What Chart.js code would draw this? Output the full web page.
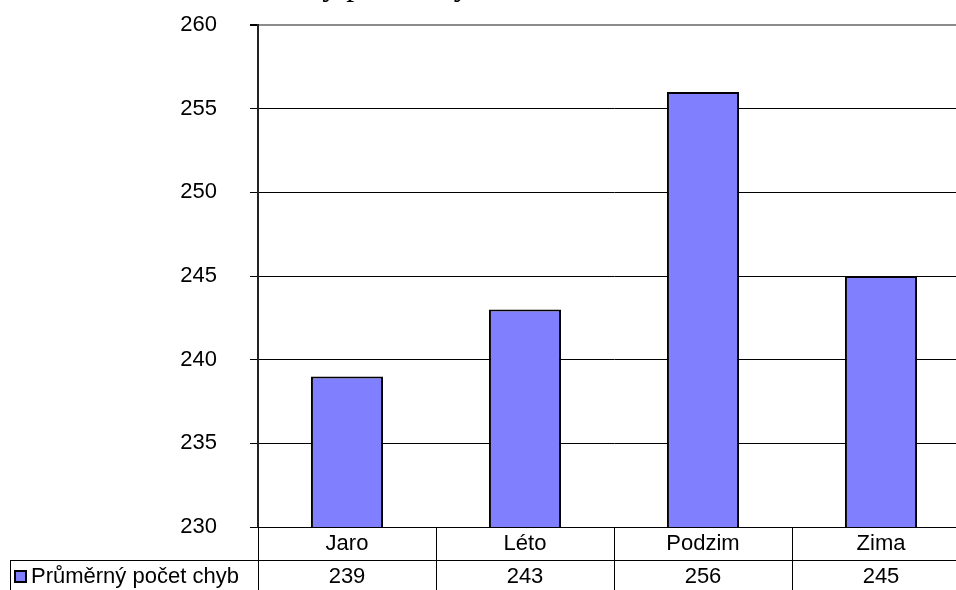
<!DOCTYPE html>
<html>
<head>
<meta charset="utf-8">
<script src="https://cdn.jsdelivr.net/npm/chart.js@4/dist/chart.umd.min.js"></script>
<style>
  html, body { margin: 0; padding: 0; background: #fff; overflow: hidden; }
  canvas { display: block; }
</style>
</head>
<body>
<canvas id="graf" width="970" height="590"></canvas>
<script>
var obdobi = ["Jaro", "Léto", "Podzim", "Zima"];
var pocetChyb = [239, 243, 256, 245];
var nazevRady = "Průměrný počet chyb";
var nadpis = "Průměrný počet chyb";

var FONT = "'Liberation Sans', Arial, sans-serif";
var BARVA = "#8080ff";

// tabulka s daty pod osou x (jako v Excelu)
var tabulka = {
  id: "tabulka",
  afterDraw: function (chart) {
    var ctx = chart.ctx;
    var x = chart.scales.x;
    var area = chart.chartArea;
    var n = obdobi.length;
    var sirka = x.width / n;
    var r1 = area.bottom;
    var r2 = area.bottom + 33;
    var konec = chart.height;

    ctx.save();
    ctx.strokeStyle = "#000";
    ctx.lineWidth = 1;
    ctx.beginPath();
    ctx.moveTo(x.left, r1 + 0.5); ctx.lineTo(x.right, r1 + 0.5);
    ctx.moveTo(10, r2 + 0.5); ctx.lineTo(x.right, r2 + 0.5);
    ctx.moveTo(10.5, r2); ctx.lineTo(10.5, konec);
    for (var i = 0; i <= n; i++) {
      var px = Math.round(x.left + i * sirka) + 0.5;
      ctx.moveTo(px, r1); ctx.lineTo(px, konec);
    }
    ctx.stroke();

    ctx.fillStyle = "#000";
    ctx.font = "22px " + FONT;
    ctx.textAlign = "center";
    ctx.textBaseline = "middle";
    for (var j = 0; j < n; j++) {
      var cx = x.getPixelForValue(j);
      ctx.fillText(obdobi[j], cx, r1 + 17);
      ctx.fillText(String(pocetChyb[j]), cx, r2 + 17);
    }

    // legenda v prvni bunce
    ctx.fillStyle = BARVA;
    ctx.fillRect(15, r2 + 11, 11, 11);
    ctx.lineWidth = 2;
    ctx.strokeStyle = "#000";
    ctx.strokeRect(15, r2 + 11, 11, 11);
    ctx.fillStyle = "#000";
    ctx.textAlign = "left";
    ctx.fillText(nazevRady, 31, r2 + 17);

    // nadpis (oriznuty nahore)
    ctx.font = "32px 'Liberation Serif', 'Times New Roman', serif";
    ctx.textBaseline = "alphabetic";
    ctx.fillText(nadpis, 212, -5);
    ctx.restore();
  }
};

new Chart(document.getElementById("graf"), {
  type: "bar",
  data: {
    labels: obdobi,
    datasets: [{
      label: nazevRady,
      data: pocetChyb,
      backgroundColor: BARVA,
      borderColor: "#000",
      borderWidth: 2,
      borderSkipped: "bottom",
      categoryPercentage: 1,
      barPercentage: 0.405
    }]
  },
  options: {
    responsive: false,
    animation: false,
    devicePixelRatio: 1,
    layout: { padding: { top: 25, right: 0, bottom: 0, left: 0 } },
    plugins: {
      legend: { display: false },
      title: { display: false },
      tooltip: { enabled: false }
    },
    scales: {
      x: {
        ticks: { display: false },
        grid: { display: false },
        border: { display: false },
        afterFit: function (s) { s.height = 63; }
      },
      y: {
        min: 230,
        max: 260,
        ticks: {
          stepSize: 5,
          padding: 33,
          color: "#000",
          font: { family: FONT, size: 22 }
        },
        grid: {
          tickLength: 8,
          color: function (c) { return c.tick && c.tick.value === 260 ? "#8c8c8c" : "#000"; },
          lineWidth: function (c) { return c.tick && c.tick.value === 260 ? 2 : 1; },
          tickColor: "#000"
        },
        border: { color: "#222", width: 2 },
        afterFit: function (s) {
          s.width = 258;
          // padding ticku nema posouvat horni okraj grafu
          s.paddingTop = 0;
          s.paddingBottom = 0;
        }
      }
    }
  },
  plugins: [tabulka]
});
</script>
</body>
</html>
